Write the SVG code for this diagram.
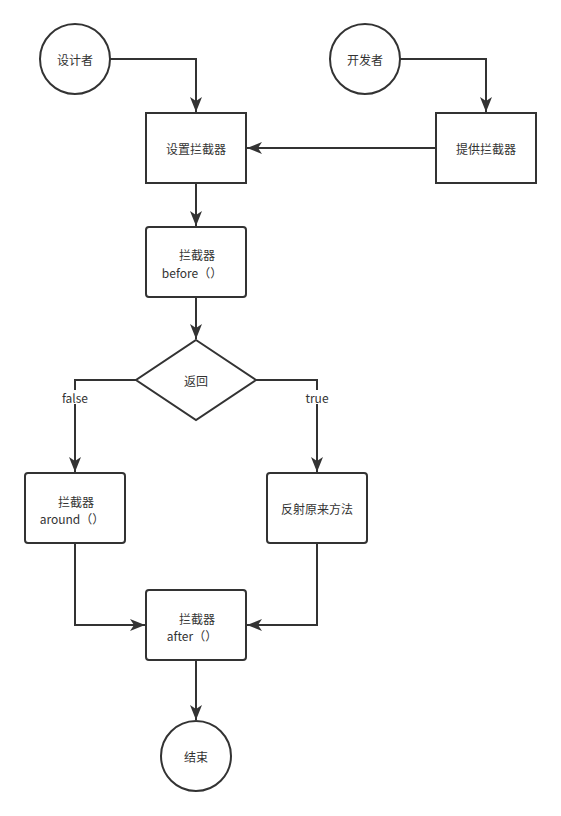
<svg xmlns="http://www.w3.org/2000/svg" width="561" height="816" viewBox="0 0 561 816">
<style>
.s{fill:#fff;stroke:#333;stroke-width:2}
.c{fill:none;stroke:#333;stroke-width:2}
text{font-family:"Noto Sans CJK SC","Liberation Sans",sans-serif;font-size:12px;fill:#333;text-anchor:middle;dominant-baseline:central}
.lbl{fill:#333}
</style>
<defs>
<marker id="a" markerWidth="16" markerHeight="12" refX="15" refY="6" orient="auto" markerUnits="userSpaceOnUse">
<path d="M0,0 L15,6 L0,12 L4,6 Z" fill="#333"/>
</marker>
</defs>
<rect width="561" height="816" fill="#fff"/>
<g id="connectors">
<path class="c" d="M110,59 H196 V112" marker-end="url(#a)"/>
<path class="c" d="M400,59 H486 V112" marker-end="url(#a)"/>
<path class="c" d="M436,148 H247" marker-end="url(#a)"/>
<path class="c" d="M196,183 V226" marker-end="url(#a)"/>
<path class="c" d="M196,297 V339" marker-end="url(#a)"/>
<path class="c" d="M136,380 H75 V472" marker-end="url(#a)"/>
<path class="c" d="M256,380 H317 V472" marker-end="url(#a)"/>
<path class="c" d="M75,543 V625 H145" marker-end="url(#a)"/>
<path class="c" d="M317,543 V625 H247" marker-end="url(#a)"/>
<path class="c" d="M196,660 V720" marker-end="url(#a)"/>
<rect x="60" y="390" width="30" height="14" fill="#fff"/>
<text x="75" y="397">false</text>
<rect x="304" y="390" width="26" height="14" fill="#fff"/>
<text x="317" y="397">true</text>
</g>
<g id="designer"><circle class="s" cx="75" cy="59" r="35"/><text x="75" y="59">设计者</text></g>
<g id="developer"><circle class="s" cx="365" cy="59" r="35"/><text x="365" y="59">开发者</text></g>
<g id="set"><rect class="s" x="146" y="113" width="100" height="70"/><text x="196" y="148">设置拦截器</text></g>
<g id="provide"><rect class="s" x="436" y="113" width="100" height="70"/><text x="486" y="148">提供拦截器</text></g>
<g id="before"><rect class="s" x="146" y="227" width="100" height="70" rx="3"/><text x="197" y="254">拦截器</text><text x="192" y="272">before（）</text></g>
<g id="decision"><path class="s" d="M196,340 L256,380 L196,420 L136,380 Z"/><text x="196" y="380">返回</text></g>
<g id="around"><rect class="s" x="25" y="473" width="100" height="70" rx="3"/><text x="76" y="501">拦截器</text><text x="72" y="518">around（）</text></g>
<g id="reflect"><rect class="s" x="267" y="473" width="100" height="70" rx="3"/><text x="317" y="508">反射原来方法</text></g>
<g id="after"><rect class="s" x="146" y="590" width="100" height="70" rx="3"/><text x="197" y="618">拦截器</text><text x="192" y="635">after（）</text></g>
<g id="end"><circle class="s" cx="196" cy="756" r="35"/><text x="196" y="756">结束</text></g>
</svg>
